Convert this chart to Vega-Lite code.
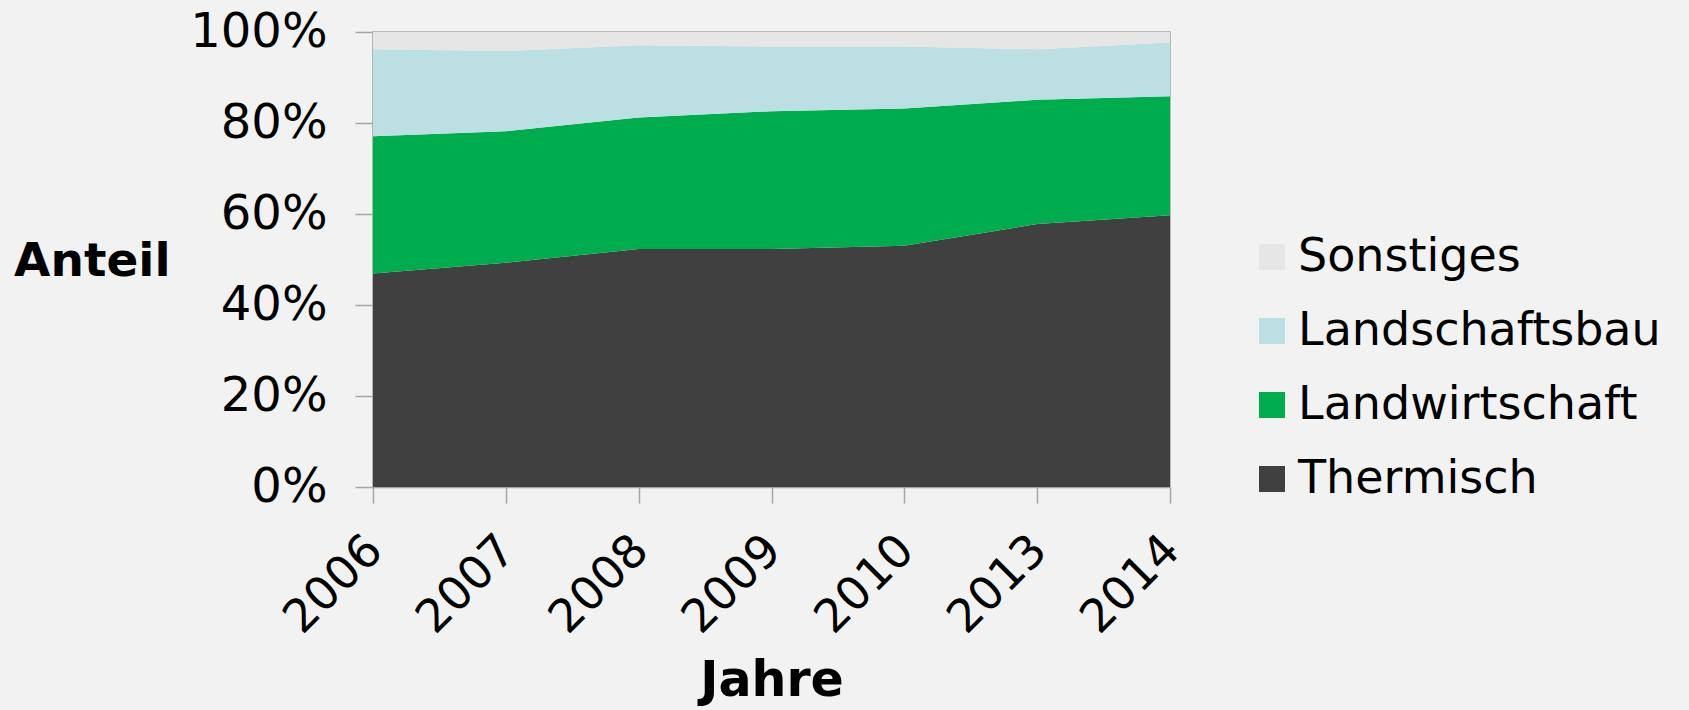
{
  "$schema": "https://vega.github.io/schema/vega-lite/v6.json",
  "autosize": {"type": "none"},
  "width": 797,
  "height": 455,
  "padding": {"left": 373, "top": 32, "right": 519, "bottom": 223},
  "background": "#f2f2f2",
  "config": {
    "font": "DejaVu Sans",
    "view": {"stroke": "#a6a6a6", "strokeWidth": 1.5},
    "axis": {"grid": false, "domainColor": "#a6a6a6", "tickColor": "#a6a6a6", "domainWidth": 1.5, "tickWidth": 1.5, "labelColor": "#000000", "titleColor": "#000000"}
  },
  "data": {
    "values": [
      {"Jahr": "2006", "Art": "Thermisch", "Wert": 46.9},
      {"Jahr": "2006", "Art": "Landwirtschaft", "Wert": 30.2},
      {"Jahr": "2006", "Art": "Landschaftsbau", "Wert": 19.1},
      {"Jahr": "2006", "Art": "Sonstiges", "Wert": 3.8},
      {"Jahr": "2007", "Art": "Thermisch", "Wert": 49.3},
      {"Jahr": "2007", "Art": "Landwirtschaft", "Wert": 28.9},
      {"Jahr": "2007", "Art": "Landschaftsbau", "Wert": 17.6},
      {"Jahr": "2007", "Art": "Sonstiges", "Wert": 4.2},
      {"Jahr": "2008", "Art": "Thermisch", "Wert": 52.3},
      {"Jahr": "2008", "Art": "Landwirtschaft", "Wert": 28.9},
      {"Jahr": "2008", "Art": "Landschaftsbau", "Wert": 15.9},
      {"Jahr": "2008", "Art": "Sonstiges", "Wert": 2.9},
      {"Jahr": "2009", "Art": "Thermisch", "Wert": 52.3},
      {"Jahr": "2009", "Art": "Landwirtschaft", "Wert": 30.3},
      {"Jahr": "2009", "Art": "Landschaftsbau", "Wert": 14.2},
      {"Jahr": "2009", "Art": "Sonstiges", "Wert": 3.2},
      {"Jahr": "2010", "Art": "Thermisch", "Wert": 53.0},
      {"Jahr": "2010", "Art": "Landwirtschaft", "Wert": 30.2},
      {"Jahr": "2010", "Art": "Landschaftsbau", "Wert": 13.6},
      {"Jahr": "2010", "Art": "Sonstiges", "Wert": 3.2},
      {"Jahr": "2013", "Art": "Thermisch", "Wert": 57.8},
      {"Jahr": "2013", "Art": "Landwirtschaft", "Wert": 27.3},
      {"Jahr": "2013", "Art": "Landschaftsbau", "Wert": 11.1},
      {"Jahr": "2013", "Art": "Sonstiges", "Wert": 3.8},
      {"Jahr": "2014", "Art": "Thermisch", "Wert": 59.7},
      {"Jahr": "2014", "Art": "Landwirtschaft", "Wert": 26.2},
      {"Jahr": "2014", "Art": "Landschaftsbau", "Wert": 11.8},
      {"Jahr": "2014", "Art": "Sonstiges", "Wert": 2.3}
    ]
  },
  "transform": [
    {"calculate": "indexof(['Thermisch','Landwirtschaft','Landschaftsbau','Sonstiges'], datum.Art)", "as": "rang"}
  ],
  "mark": {"type": "area", "interpolate": "linear"},
  "encoding": {
    "x": {
      "field": "Jahr", "type": "ordinal",
      "scale": {"type": "point", "padding": 0},
      "axis": {"title": "Jahre", "labelAngle": -45, "labelFontSize": 46, "labelPadding": 24, "labelOffset": -14, "tickSize": 16,
               "titleFontSize": 49, "titleFontWeight": "bold", "titleBaseline": "alphabetic", "titleY": 208}
    },
    "y": {
      "field": "Wert", "type": "quantitative", "stack": "zero",
      "scale": {"domain": [0, 100], "nice": false},
      "axis": {"title": "Anteil", "values": [0, 20, 40, 60, 80, 100], "labelExpr": "datum.value + '%'",
               "labelFontSize": 48, "labelPadding": 28, "tickSize": 18,
               "titleAngle": 0, "titleFontSize": 47, "titleFontWeight": "bold", "titleAlign": "right",
               "titleBaseline": "middle", "titleX": -203, "titleY": 229}
    },
    "color": {
      "field": "Art", "type": "nominal",
      "scale": {"domain": ["Sonstiges", "Landschaftsbau", "Landwirtschaft", "Thermisch"],
                "range": ["#e6e6e6", "#bcdfe3", "#00ad4e", "#404040"]},
      "legend": {"title": null, "orient": "none", "legendX": 876, "legendY": 202, "symbolType": "square",
                 "symbolSize": 676, "symbolStrokeWidth": 0, "labelFontSize": 46, "labelOffset": 3, "labelLimit": 0,
                 "rowPadding": 28, "labelColor": "#000000", "padding": 0}
    },
    "order": {"field": "rang", "type": "quantitative", "sort": "ascending"}
  }
}
